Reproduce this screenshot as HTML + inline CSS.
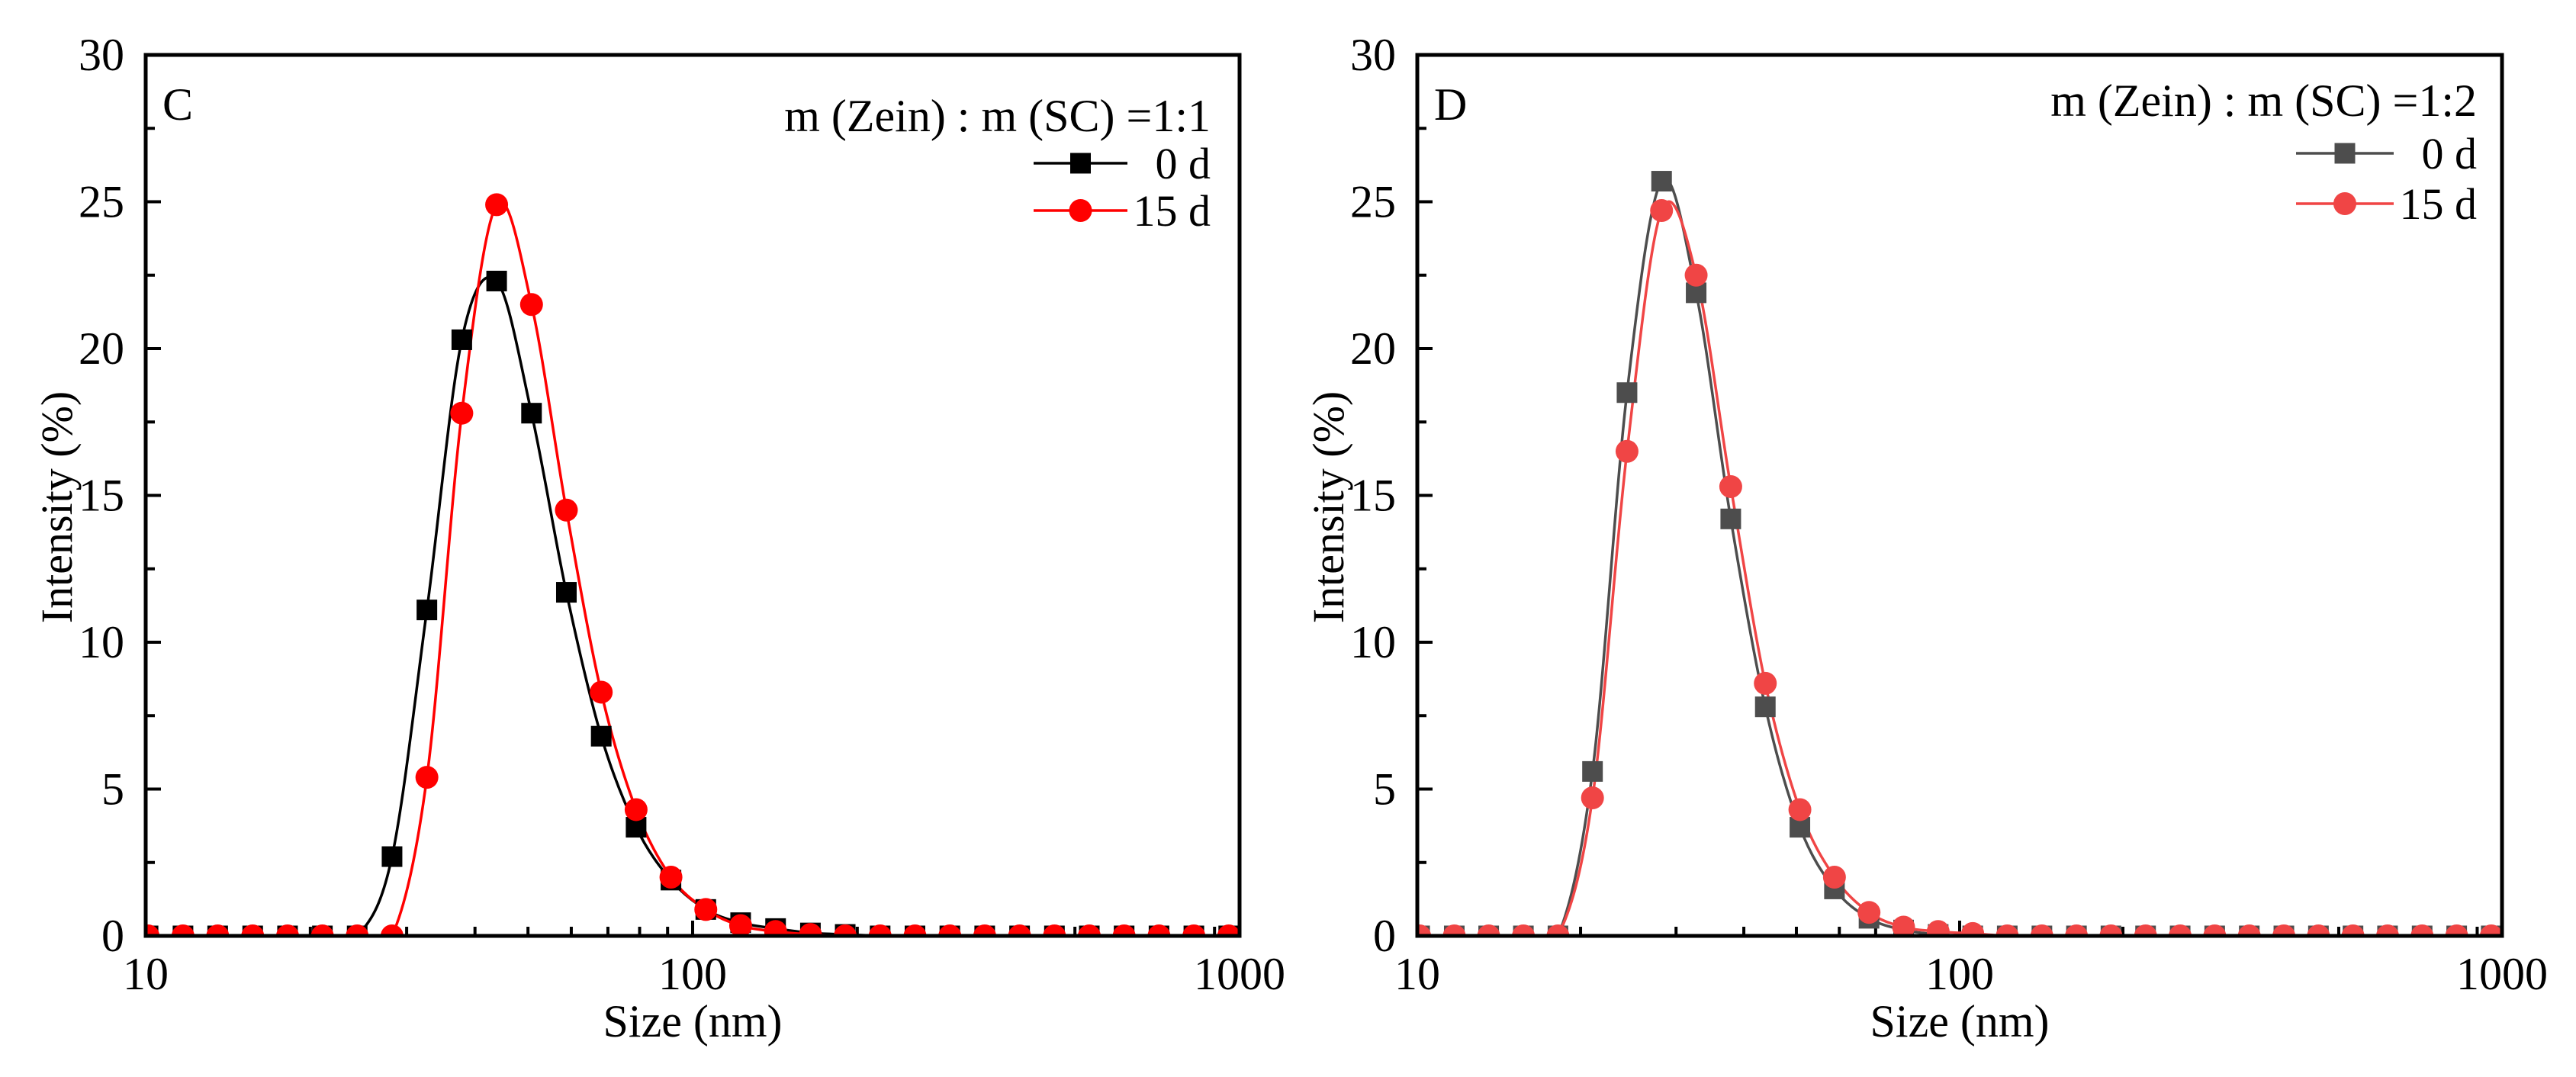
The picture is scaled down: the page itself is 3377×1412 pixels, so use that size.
<!DOCTYPE html>
<html><head><meta charset="utf-8">
<style>
html,body{margin:0;padding:0;background:#fff;}
svg text{font-family:"Liberation Serif",serif;fill:#000;}
</style></head>
<body>
<svg id="chart" width="3377" height="1407" viewBox="0 0 3377 1407" xmlns="http://www.w3.org/2000/svg">
<rect width="3377" height="1407" fill="#fff"/>
</svg>
<script>
const sizes = [10.10,11.70,13.54,15.69,18.17,21.04,24.36,28.21,32.67,37.84,43.82,50.75,58.77,68.06,78.82,91.28,105.7,122.4,141.8,164.2,190.1,220.2,255.0,295.3,342.0,396.1,458.7,531.2,615.1,712.4,825.0,955.4];
const cDay0 = [0,0,0,0,0,0,0,2.7,11.1,20.3,22.3,17.8,11.7,6.8,3.7,1.9,0.9,0.45,0.25,0.1,0.05,0,0,0,0,0,0,0,0,0,0,0];
const cDay15 = [0,0,0,0,0,0,0,0,5.4,17.8,24.9,21.5,14.5,8.3,4.3,2.0,0.9,0.35,0.15,0.05,0,0,0,0,0,0,0,0,0,0,0,0];
const dDay0 = [0,0,0,0,0,5.6,18.5,25.7,21.9,14.2,7.8,3.7,1.6,0.6,0.2,0.05,0,0,0,0,0,0,0,0,0,0,0,0,0,0,0,0];
const dDay15 = [0,0,0,0,0,4.7,16.5,24.7,22.5,15.3,8.6,4.3,2.0,0.8,0.3,0.15,0.08,0,0,0,0,0,0,0,0,0,0,0,0,0,0,0];
const yTicks = [0,5,10,15,20,25,30];
const xTicks = [10,100,1000];
const legendLabels = ["0 d","15 d"];

const NS = "http://www.w3.org/2000/svg";
const svg = document.getElementById('chart');
function mk(tag, attrs, parent){
  const e = document.createElementNS(NS, tag);
  for (const k in attrs) e.setAttribute(k, attrs[k]);
  (parent||svg).appendChild(e);
  return e;
}

function panel(cfg){
  const g = mk('g', {});
  
  
  const L=cfg.L, R=cfg.R, T=72, B=1227;
  const xs = v => L + (Math.log10(v)-1)/2*(R-L);
  const ys = v => B - v/30*(B-T);
  const cid = cfg.name+'-clip';
  const cp = mk('clipPath', {id:cid}, g);
  mk('rect', {x:L, y:T, width:R-L, height:B-T}, cp);

  yTicks.forEach(v=>{
    const y = ys(v);
    const t = mk('line', {x1:L, x2:L+20, y1:y, y2:y, stroke:'#000','stroke-width':4}, g);
    
    
    const lb = mk('text', {x:L-28, y:y+20, 'font-size':60, 'text-anchor':'end'}, g);
    lb.textContent = v;
    
    
    if (v<30){
      const m = mk('line', {x1:L, x2:L+12, y1:ys(v+2.5), y2:ys(v+2.5), stroke:'#000','stroke-width':4}, g);
      
      
    }
  });
  xTicks.forEach((v,i)=>{
    const x = xs(v);
    const t = mk('line', {x1:x, x2:x, y1:B, y2:B-20, stroke:'#000','stroke-width':4}, g);
    
    
    const lb = mk('text', {x:x, y:1297, 'font-size':60, 'text-anchor':'middle'}, g);
    lb.textContent = v;
    
    
    if (i<xTicks.length-1){
      for (let k=2;k<=9;k++){
        const xm = xs(v*k);
        const m = mk('line', {x1:xm, x2:xm, y1:B, y2:B-12, stroke:'#000','stroke-width':4}, g);
        
        
      }
    }
  });

  const series = [
    {vals:cfg.s0, col:cfg.c0, shape:'square', name:'series-0d'},
    {vals:cfg.s1, col:cfg.c1, shape:'circle', name:'series-15d'}
  ];
  series.forEach(s=>{
    const px = sizes.map(v=>xs(v)), py = s.vals.map(v=>ys(v));
    let d = 'M'+px[0]+','+py[0];
    for (let i=0;i<px.length-1;i++){
      const p0x = i>0?px[i-1]:px[i], p0y = i>0?py[i-1]:py[i];
      const p3x = i<px.length-2?px[i+2]:px[i+1], p3y = i<px.length-2?py[i+2]:py[i+1];
      const c1x = px[i]+(px[i+1]-p0x)/6, c1y = Math.min(B, py[i]+(py[i+1]-p0y)/6);
      const c2x = px[i+1]-(p3x-px[i])/6, c2y = Math.min(B, py[i+1]-(p3y-py[i])/6);
      d += ' C'+c1x+','+c1y+' '+c2x+','+c2y+' '+px[i+1]+','+py[i+1];
    }
    const p = mk('path', {d:d, fill:'none', stroke:s.col, 'stroke-width':3.5, 'clip-path':'url(#'+cid+')'}, g);
    
    
  });
  series.forEach(s=>{
    s.vals.forEach((v,i)=>{
      const x = xs(sizes[i]), y = ys(v);
      let m;
      if (s.shape==='square') m = mk('rect', {x:x-13.5, y:y-13.5, width:27, height:27, fill:s.col, 'clip-path':'url(#'+cid+')'}, g);
      else m = mk('circle', {cx:x, cy:y, r:15, fill:s.col, 'clip-path':'url(#'+cid+')'}, g);
      
      
    });
  });

  const fr = mk('rect', {x:L, y:T, width:R-L, height:B-T, fill:'none', stroke:'#000', 'stroke-width':5}, g);
  
  

  const pl = mk('text', {x:L+22, y:157, 'font-size':60}, g);
  pl.textContent = cfg.letter;
  
  
  const lt = mk('text', {x:cfg.legRight, y:cfg.legY[0], 'font-size':60, 'text-anchor':'end'}, g);
  lt.textContent = cfg.legTitle;
  
  
  series.forEach((s,i)=>{
    const y = cfg.legY[i+1];
    const ln = mk('line', {x1:cfg.legX0, x2:cfg.legX1, y1:y, y2:y, stroke:s.col, 'stroke-width':3.5}, g);
    
    
    const mx = (cfg.legX0+cfg.legX1)/2;
    let m;
    if (s.shape==='square') m = mk('rect', {x:mx-13.5, y:y-13.5, width:27, height:27, fill:s.col}, g);
    else m = mk('circle', {cx:mx, cy:y, r:15, fill:s.col}, g);
    
    
    const tx = mk('text', {x:cfg.legRight, y:y+20, 'font-size':58, 'text-anchor':'end'}, g);
    tx.textContent = legendLabels[i];
    
    
  });
  const xt = mk('text', {x:(L+R)/2, y:1359, 'font-size':60, 'text-anchor':'middle'}, g);
  xt.textContent = 'Size (nm)';
  
  
  const yt = mk('text', {x:0, y:0, 'font-size':58, 'text-anchor':'middle', transform:'translate('+(L-97)+',665) rotate(-90)'}, g);
  yt.textContent = 'Intensity (%)';
  
  
}

panel({name:'panel-c', L:191, R:1625, s0:cDay0, s1:cDay15, c0:'#000000', c1:'#ff0000', letter:'C',
  legTitle:'m (Zein) : m (SC) =1:1', legRight:1587, legY:[172,214,276], legX0:1355, legX1:1478});
panel({name:'panel-d', L:1858, R:3280, s0:dDay0, s1:dDay15, c0:'#4d4d4d', c1:'#f04545', letter:'D',
  legTitle:'m (Zein) : m (SC) =1:2', legRight:3247, legY:[152,201,267], legX0:3010, legX1:3138});
</script>
</body></html>
